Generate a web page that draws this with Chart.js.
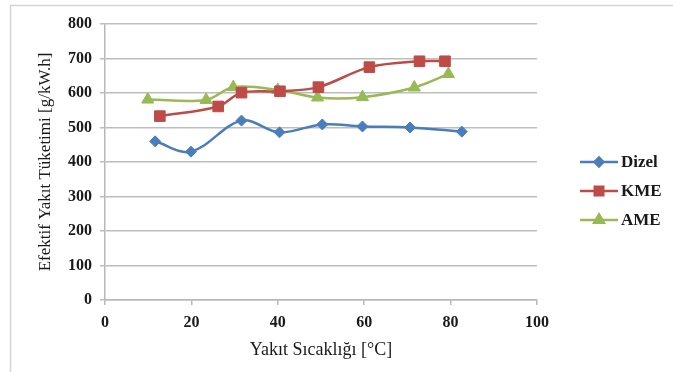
<!DOCTYPE html>
<html>
<head>
<meta charset="utf-8">
<script src="https://cdn.jsdelivr.net/npm/chart.js@4"></script>
<style>
  html, body { margin: 0; padding: 0; background: #fff; }
  #wrap { width: 673px; height: 372px; position: relative; }
</style>
</head>
<body>
<div id="wrap"><canvas id="fuelChart"></canvas></div>
<script>
// data
const seriesNames = ['Dizel', 'KME', 'AME'];
const dizelX = [11.6, 19.9, 31.6, 40.4, 50.3, 59.6, 70.6, 82.6];
const dizelY = [460, 430, 520, 486, 509, 503, 500, 488];
const kmeX = [12.7, 26.2, 31.6, 40.5, 49.4, 61.2, 72.8, 78.7];
const kmeY = [533, 561, 601, 605, 617, 675, 692, 692];
const ameX = [9.9, 23.4, 29.7, 40.0, 49.2, 59.6, 71.6, 79.5];
const ameY = [581, 580, 617, 609, 587, 588, 616, 655];
const xTicks = [0, 20, 40, 60, 80, 100];
const yTicks = [0, 100, 200, 300, 400, 500, 600, 700, 800];

const colors = ['#4A7EBB', '#BE4B48', '#98B954'];
const markers = ['rectRot', 'rect', 'triangle'];
const markerSize = [5.5, 7.5, 7];
const serif = "'Liberation Serif', 'Times New Roman', serif";

function toPoints(xs, ys) {
    return xs.map(function (x, i) { return { x: x, y: ys[i] }; });
}

const allX = [dizelX, kmeX, ameX];
const allY = [dizelY, kmeY, ameY];

const datasets = seriesNames.map(function (name, i) {
    return {
        label: name,
        data: toPoints(allX[i], allY[i]),
        borderColor: colors[i],
        backgroundColor: colors[i],
        borderWidth: 2.5,
        showLine: true,
        tension: 0.35,
        pointStyle: markers[i],
        pointRadius: markerSize[i],
        pointHoverRadius: markerSize[i],
        pointBorderWidth: 1
    };
});

// thin frame like the scanned figure + custom legend with line and marker
const framePlugin = {
    id: 'frame',
    beforeDraw: function (chart) {
        const c = chart.ctx;
        c.save();
        c.strokeStyle = '#d4d4d4';
        c.lineWidth = 1.5;
        c.beginPath();
        c.moveTo(10.5, 372);
        c.lineTo(10.5, 5.5);
        c.lineTo(673, 5.5);
        c.stroke();
        c.restore();
    }
};

const legendPlugin = {
    id: 'sideLegend',
    afterDraw: function (chart) {
        const c = chart.ctx;
        c.save();
        seriesNames.forEach(function (name, i) {
            const y = 162 + i * 29;
            c.strokeStyle = colors[i];
            c.lineWidth = 2.5;
            c.beginPath();
            c.moveTo(580, y);
            c.lineTo(618, y);
            c.stroke();
            c.fillStyle = colors[i];
            Chart.helpers.drawPoint(c, { pointStyle: markers[i], radius: markerSize[i] * 0.8, borderWidth: 1 }, 599, y);
            c.fill();
            c.fillStyle = '#1a1a1a';
            c.font = 'bold 17px ' + serif;
            c.textBaseline = 'middle';
            c.fillText(name, 621, y + 1);
        });
        c.restore();
    }
};

new Chart(document.getElementById('fuelChart'), {
    type: 'scatter',
    data: { datasets: datasets },
    plugins: [framePlugin, legendPlugin],
    options: {
        responsive: true,
        maintainAspectRatio: false,
        animation: false,
        layout: {
            padding: { left: 0, top: 24, right: 136, bottom: 0 }
        },
        plugins: {
            legend: { display: false },
            tooltip: { enabled: false }
        },
        scales: {
            x: {
                type: 'linear',
                min: 0,
                max: 100,
                afterBuildTicks: function (scale) {
                    scale.ticks = xTicks.map(function (v) { return { value: v }; });
                },
                afterFit: function (scale) { scale.height = 72; },
                grid: {
                    drawOnChartArea: false,
                    color: '#b8b8b8',
                    lineWidth: 1.5,
                    tickLength: 5
                },
                border: { color: '#b8b8b8', width: 1.5 },
                ticks: {
                    padding: 8,
                    maxRotation: 0,
                    color: '#1a1a1a',
                    font: { family: serif, size: 16, weight: 'bold' }
                },
                title: {
                    display: true,
                    text: 'Yakıt Sıcaklığı [°C]',
                    color: '#1a1a1a',
                    font: { family: serif, size: 18 },
                    padding: { top: 4, bottom: 11 }
                }
            },
            y: {
                min: 0,
                max: 800,
                afterBuildTicks: function (scale) {
                    scale.ticks = yTicks.map(function (v) { return { value: v }; });
                },
                afterFit: function (scale) { scale.width = 105; },
                grid: {
                    color: '#bdbdbd',
                    lineWidth: 1.5,
                    tickLength: 5
                },
                border: { color: '#b8b8b8', width: 1.5 },
                ticks: {
                    padding: 8,
                    color: '#1a1a1a',
                    font: { family: serif, size: 16, weight: 'bold' }
                },
                title: {
                    display: true,
                    text: 'Efektif Yakıt Tüketimi [g/kW.h]',
                    color: '#1a1a1a',
                    font: { family: serif, size: 17 },
                    padding: { top: 35, bottom: 0 }
                }
            }
        }
    }
});
</script>
</body>
</html>
